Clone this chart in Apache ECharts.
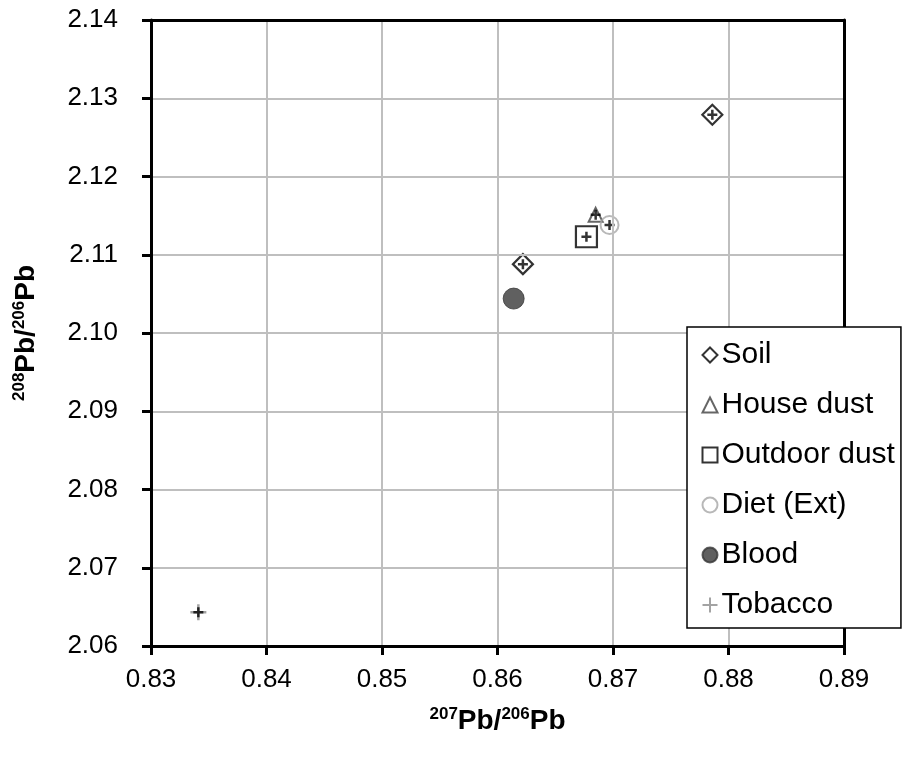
<!DOCTYPE html>
<html>
<head>
<meta charset="utf-8">
<script src="https://cdn.jsdelivr.net/npm/echarts@6/dist/echarts.min.js"></script>
<style>html,body{margin:0;padding:0;background:#fff}#c{width:906px;height:758px}</style>
</head>
<body>
<div id="c"></div>
<script>
// Data
const seriesNames = ['Soil', 'House dust', 'Outdoor dust', 'Diet (Ext)', 'Blood', 'Tobacco'];
const soil = [[0.8622, 2.1088], [0.8786, 2.1279]];
const houseDust = [[0.8685, 2.1151]];
const outdoorDust = [[0.8677, 2.1123]];
const dietExt = [[0.8697, 2.1138]];
const blood = [[0.8614, 2.1044]];
const tobacco = [[0.8341, 2.0643]];
const xTicks = [0.83, 0.84, 0.85, 0.86, 0.87, 0.88, 0.89];
const yTicks = [2.06, 2.07, 2.08, 2.09, 2.10, 2.11, 2.12, 2.13, 2.14];

const FONT = "'Liberation Sans', Arial, sans-serif";
const PLUS = 'path://M5,0 L5,10 M0,5 L10,5';

const chart = echarts.init(document.getElementById('c'), null, {renderer: 'canvas'});
const nameRich = {
  sup: {fontSize: 17, fontWeight: 'bold', fontFamily: FONT, color: '#000', verticalAlign: 'top', lineHeight: 30},
  main: {fontSize: 28, fontWeight: 'bold', fontFamily: FONT, color: '#000', lineHeight: 30}
};
function mk(name, data, symbol, size, style, z) {
  return {name, type: 'scatter', data, symbol, symbolSize: size, itemStyle: style, z: z || 3,
    emphasis: {disabled: true}};
}
const errStyle = {color: 'none', borderColor: '#000', borderWidth: 2.5};
const allPts = [].concat(soil, houseDust, outdoorDust, dietExt, tobacco);
const xMin = xTicks[0], xMax = xTicks[xTicks.length - 1];
const yMin = yTicks[0], yMax = yTicks[yTicks.length - 1];
const frameAxis = {axisLine: {show: true, lineStyle: {color: '#000', width: 3}}, axisTick: {show: false},
  axisLabel: {show: false}, splitLine: {show: false}};
chart.setOption({
  animation: false,
  backgroundColor: '#fff',
  grid: {left: 151, top: 20, right: 62, bottom: 112, show: false},
  xAxis: [{
    type: 'value', min: xMin, max: xMax, interval: 0.01,
    name: '{sup|207}{main|Pb/}{sup|206}{main|Pb}', nameLocation: 'middle', nameGap: 60,
    nameTextStyle: {rich: nameRich},
    axisLine: {lineStyle: {color: '#000', width: 3}},
    axisTick: {show: true, inside: false, length: 9, lineStyle: {color: '#000', width: 3}},
    axisLabel: {fontSize: 26, fontFamily: FONT, color: '#000', margin: 21, formatter: v => v.toFixed(2)},
    splitLine: {show: true, lineStyle: {color: '#bfbfbf', width: 2}},
    z: 5
  }, Object.assign({type: 'value', position: 'top', min: xMin, max: xMax, interval: 0.01, z: 5}, frameAxis)],
  yAxis: [{
    type: 'value', min: yMin, max: yMax, interval: 0.01,
    name: '{sup|208}{main|Pb/}{sup|206}{main|Pb}', nameLocation: 'middle', nameGap: 110, nameRotate: 90,
    nameTextStyle: {rich: nameRich},
    axisLine: {lineStyle: {color: '#000', width: 3}},
    axisTick: {show: true, inside: false, length: 9, lineStyle: {color: '#000', width: 3}},
    axisLabel: {fontSize: 26, fontFamily: FONT, color: '#000', margin: 33, formatter: v => v.toFixed(2)},
    splitLine: {show: true, lineStyle: {color: '#bfbfbf', width: 2}},
    z: 5
  }, Object.assign({type: 'value', position: 'right', min: yMin, max: yMax, interval: 0.01, z: 5}, frameAxis)],
  legend: {
    data: seriesNames, orient: 'vertical', left: 687, top: 327,
    padding: [11, 6, 6, 13], itemGap: 16, itemWidth: 15, itemHeight: 15,
    backgroundColor: '#fff', borderColor: '#000', borderWidth: 1.5,
    textStyle: {fontSize: 30, fontFamily: FONT, color: '#000', padding: [0, 0, 0, -1], lineHeight: 34},
    selectedMode: false, z: 10
  },
  series: [
    mk('Soil', soil, 'diamond', [20, 20], {color: '#fff', borderColor: '#000', borderWidth: 2.2}, 3),
    mk('House dust', houseDust, 'triangle', [14, 14], {color: '#fff', borderColor: '#404040', borderWidth: 2}, 3),
    mk('Outdoor dust', outdoorDust, 'rect', [21, 21], {color: 'rgba(255,255,255,0)', borderColor: '#000', borderWidth: 2.2}, 3),
    mk('Diet (Ext)', dietExt, 'circle', [18, 18], {color: 'rgba(255,255,255,0)', borderColor: '#a6a6a6', borderWidth: 2}, 3),
    mk('Blood', blood, 'circle', [21, 21], {color: '#383838', borderColor: '#383838', borderWidth: 1}, 3),
    mk('Tobacco', tobacco, PLUS, [16, 16], {color: 'none', borderColor: '#8c8c8c', borderWidth: 2.5}, 3),
    {name: 'err', type: 'scatter', data: allPts, symbol: PLUS, symbolSize: [10, 10], itemStyle: errStyle, z: 4, silent: true}
  ]
});
</script>
</body>
</html>
